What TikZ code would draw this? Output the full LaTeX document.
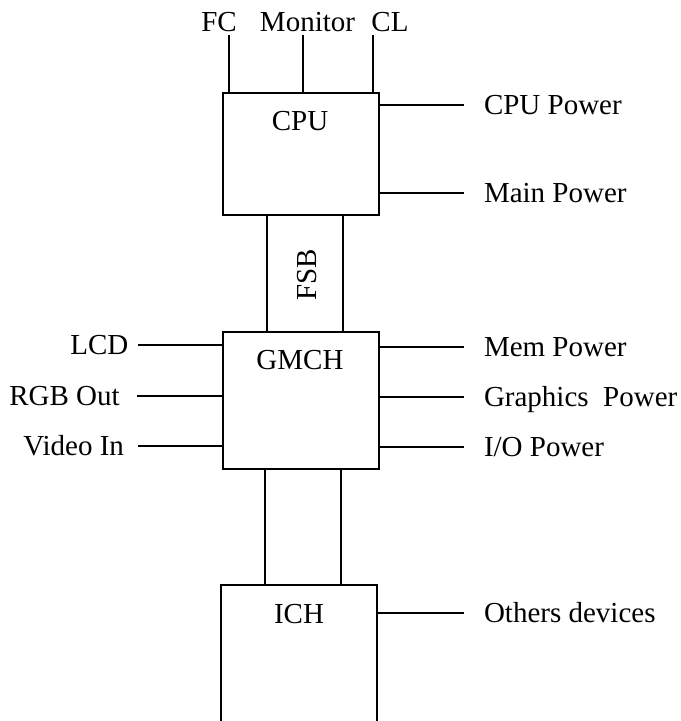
\documentclass[tikz,border=0pt]{standalone}
\usepackage{fontspec}
\setmainfont{Liberation Serif}
\begin{document}
\begin{tikzpicture}[x=0.5pt,y=-0.5pt,line width=1pt,
  chip/.style={draw,rectangle,inner sep=0pt,outer sep=0pt},
  txt/.style={font=\fontsize{14.5}{17}\selectfont,inner sep=0pt},
  rlab/.style={txt,anchor=west,inner xsep=9.5pt,inner ysep=0pt,text height=9.5pt,text depth=0pt},
  llab/.style={txt,anchor=east,inner ysep=0pt,text height=9.5pt,text depth=0pt}]
\useasboundingbox (0,0) rectangle (680,721);

% chips
\node[chip,minimum width=78.3pt,minimum height=60.85pt] (cpu) at (301,154.2) {};
\node[txt,anchor=base] (cpulbl) at (300,130.7) {CPU};
\node[chip,minimum width=78.15pt,minimum height=68.8pt] (gmch) at (300.85,400.5) {};
\node[txt,anchor=base] (gmchlbl) at (300,369) {GMCH};
\node[inner sep=0pt,outer sep=0pt,minimum width=78.15pt,minimum height=67.85pt] (ich) at (299.15,653.15) {};
\draw (ich.south west) -- (ich.north west) -- (ich.north east) -- (ich.south east);
\node[txt,anchor=base] (ichlbl) at (299,623) {ICH};

% top signals
\node[txt,anchor=base] (fc) at (219,32) {FC};
\node[txt,anchor=base] (mon) at (307.5,32) {Monitor};
\node[txt,anchor=base] (cl) at (390,32) {CL};
\coordinate (fcp) at (229.3,35);
\coordinate (monp) at (303.3,35);
\coordinate (clp) at (372.7,35);
\draw (fcp) -- (fcp |- cpu.north);
\draw (monp) -- (monp |- cpu.north);
\draw (clp) -- (clp |- cpu.north);

% FSB
\coordinate (fsbl) at (267.3,0);
\coordinate (fsbr) at (343.3,0);
\draw (fsbl |- cpu.south) -- (fsbl |- gmch.north);
\draw (fsbr |- cpu.south) -- (fsbr |- gmch.north);
\node[txt,rotate=90,anchor=base] (fsb) at (316.5,275) {FSB};

% GMCH - ICH link
\coordinate (lnkl) at (265.3,0);
\coordinate (lnkr) at (341,0);
\draw (lnkl |- gmch.south) -- (lnkl |- ich.north);
\draw (lnkr |- gmch.south) -- (lnkr |- ich.north);

% right labels
\node[rlab] (cpupw) at (464,105) {CPU Power};
\node[rlab] (mainpw) at (464,193.3) {Main Power};
\node[rlab] (mempw) at (464,347.3) {Mem Power};
\node[rlab] (gfxpw) at (464,397.3) {Graphics\ \ Power};
\node[rlab] (iopw) at (464,446.7) {I/O Power};
\node[rlab] (other) at (464,613.3) {Others devices};
\draw (cpu.east |- cpupw.west) -- (cpupw.west);
\draw (cpu.east |- mainpw.west) -- (mainpw.west);
\draw (gmch.east |- mempw.west) -- (mempw.west);
\draw (gmch.east |- gfxpw.west) -- (gfxpw.west);
\draw (gmch.east |- iopw.west) -- (iopw.west);
\draw (ich.east |- other.west) -- (other.west);

% left labels
\node[llab,inner xsep=4.5pt] (lcd) at (138.3,345) {LCD};
\node[llab,inner xsep=8pt] (rgb) at (136.7,395.7) {RGB Out};
\node[llab,inner xsep=6.65pt] (vid) at (138.3,445.7) {Video In};
\draw (lcd.east) -- (lcd.east -| gmch.west);
\draw (rgb.east) -- (rgb.east -| gmch.west);
\draw (vid.east) -- (vid.east -| gmch.west);
\end{tikzpicture}
\end{document}
